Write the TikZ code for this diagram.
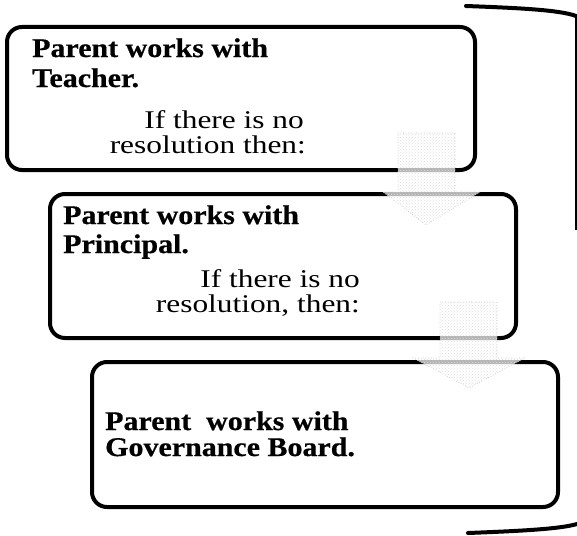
\documentclass[tikz,border=0pt]{standalone}
\usepackage{fontspec}
\setmainfont{Liberation Serif}
\newfontfamily\hdfont[FakeStretch=1.11,FakeBold=0.6]{Liberation Serif Bold}
\newfontfamily\rgfont[FakeStretch=1.23]{Liberation Serif}
\usetikzlibrary{patterns}
\begin{document}
\begin{tikzpicture}[x=1pt,y=-1pt,
  stepbox/.style={draw=black, line width=4pt, rounded corners=15pt},
  headtxt/.style={inner sep=0pt, anchor=base west, font=\hdfont\fontsize{27}{30}\selectfont},
  bodytxt/.style={inner sep=0pt, anchor=base east, font=\rgfont\fontsize{25.5}{25}\selectfont},
  blockarrow/.style={fill=white, fill opacity=0.7, draw=gray!50, dotted, line width=0.6pt},
  stipple/.style={pattern=crosshatch dots, pattern color=gray!25},
  bracket/.style={line width=4pt, line cap=round}]
\useasboundingbox (0,0) rectangle (577,535);
% boxes
\draw[stepbox] (7,27) rectangle (475,170);
\draw[stepbox] (50,194) rectangle (516,338);
\draw[stepbox] (92,362) rectangle (558,507);
% texts
\node[headtxt] (t1a) at (32,57) {Parent works with};
\node[headtxt] (t1b) at (32,87) {Teacher.};
\node[bodytxt] (t1c) at (304,128) {If there is no};
\node[bodytxt] (t1d) at (306,153) {resolution then:};
\node[headtxt] (t2a) at (63,224) {Parent works with};
\node[headtxt] (t2b) at (63,253) {Principal.};
\node[bodytxt] (t2c) at (360,287) {If there is no};
\node[bodytxt] (t2d) at (360,312) {resolution, then:};
\node[headtxt] (t3a) at (105,430) {Parent\ \ works with};
\node[headtxt] (t3b) at (105,456) {Governance Board.};
% block arrows
\coordinate (a1) at (426,225);
\coordinate (a2) at (469,388);
\path[blockarrow] (398,133) -- (455,133) -- (455,192) -- (480,192) -- (a1) -- (383,192) -- (398,192) -- cycle;
\path[stipple] (398,133) -- (455,133) -- (455,192) -- (480,192) -- (a1) -- (383,192) -- (398,192) -- cycle;
\path[blockarrow] (440,302) -- (497,302) -- (497,358) -- (525,358) -- (a2) -- (413,358) -- (440,358) -- cycle;
\path[stipple] (440,302) -- (497,302) -- (497,358) -- (525,358) -- (a2) -- (413,358) -- (440,358) -- cycle;
% bracket
\coordinate (k1) at (466,6);
\coordinate (k2) at (576,16);
\coordinate (k3) at (576,230);
\coordinate (k4) at (577,524);
\coordinate (k5) at (468,533);
\draw[bracket] (k1) .. controls (520,8) and (560,10) .. (k2);
\draw[line width=1.6pt] (k2) -- (k3);
\draw[bracket] (k5) .. controls (520,531) and (560,529) .. (k4);
\end{tikzpicture}
\end{document}
